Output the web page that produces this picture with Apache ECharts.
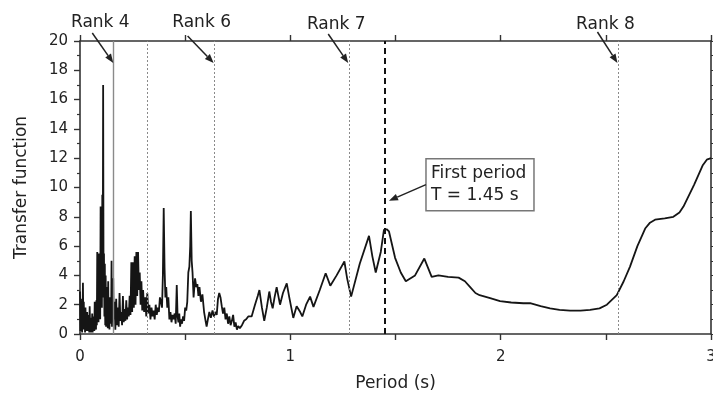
<!DOCTYPE html>
<html>
<head>
<meta charset="utf-8">
<script src="https://cdn.jsdelivr.net/npm/echarts@6/dist/echarts.min.js"></script>
<style>html,body{margin:0;padding:0;background:#fff;}#c{width:713px;height:394px;}</style>
</head>
<body>
<div id="c"></div>
<script>
// Period (s)
const period = [
0.000,0.002,0.004,0.006,0.008,0.010,0.012,0.014,0.016,0.018,0.020,0.022,0.024,0.026,0.028,0.030,0.032,0.034,0.036,0.038,
0.040,0.042,0.044,0.046,0.048,0.050,0.052,0.054,0.056,0.058,0.060,0.062,0.064,0.066,0.068,0.070,0.072,0.074,0.076,0.078,
0.080,0.082,0.084,0.086,0.088,0.090,0.092,0.094,0.096,0.098,0.100,0.102,0.104,0.106,0.108,0.110,0.112,0.114,0.116,0.118,
0.120,0.122,0.124,0.126,0.128,0.130,0.132,0.134,0.136,0.138,0.140,0.142,0.144,0.146,0.148,0.150,0.152,0.154,0.156,0.158,
0.160,0.164,0.168,0.172,0.176,0.180,0.184,0.188,0.192,0.196,0.200,0.204,0.208,0.212,0.216,0.220,0.224,0.228,0.232,
0.236,0.240,0.244,0.248,0.252,0.256,0.260,0.264,0.268,0.272,0.276,0.280,0.284,0.288,0.292,0.296,0.300,0.305,0.310,0.315,
0.320,0.325,0.330,0.335,0.340,0.345,0.350,0.355,0.360,0.365,0.370,0.375,0.380,0.385,0.390,0.394,0.398,0.402,0.406,0.410,
0.415,0.420,0.425,0.430,0.435,0.440,0.445,0.450,0.455,0.460,0.464,0.468,0.472,0.476,0.480,0.485,0.490,0.495,0.500,0.505,
0.510,0.515,0.520,0.524,0.527,0.531,0.535,0.540,0.547,0.553,0.558,0.563,0.568,0.575,0.582,0.590,0.597,0.602,0.608,0.615,
0.622,0.630,0.637,0.643,0.650,0.656,0.662,0.668,0.674,0.680,0.686,0.692,0.698,0.704,0.710,0.716,0.722,0.728,0.734,0.740,
0.746,0.752,0.760,0.770,0.780,0.790,0.800,0.816,0.832,0.845,0.853,0.865,0.876,0.888,0.900,0.908,0.916,0.925,0.935,0.943,
0.951,0.965,0.983,0.995,1.014,1.022,1.030,1.038,1.047,1.057,1.075,1.094,1.110,1.140,1.168,1.190,1.220,1.257,1.270,1.289,
1.330,1.374,1.390,1.406,1.430,1.445,1.458,1.469,1.498,1.525,1.549,1.593,1.637,1.672,1.704,1.750,1.800,1.830,1.855,1.880,
1.900,1.950,1.997,2.050,2.108,2.140,2.190,2.235,2.280,2.330,2.380,2.425,2.470,2.505,2.552,2.585,2.615,2.650,2.687,2.710,
2.734,2.780,2.821,2.850,2.869,2.920,2.960,2.980,3.000
];
// Transfer function
const transfer = [
2.9,0.2,2.4,0.6,1.9,0.1,1.4,3.5,0.3,2.2,0.5,1.6,0.1,1.8,0.4,1.2,0.2,1.5,0.3,1.0,
0.2,1.3,0.1,1.9,0.3,1.1,0.1,0.8,0.2,1.4,0.1,0.9,0.3,1.2,0.2,2.2,0.4,1.5,0.3,2.3,
0.6,5.6,1.0,3.2,0.8,5.5,1.5,4.2,1.0,8.7,2.2,6.0,1.8,9.5,2.5,17.0,3.0,5.5,1.2,4.8,
0.6,4.0,0.5,3.2,1.0,2.6,0.4,3.6,0.8,2.2,0.3,2.5,0.7,1.8,0.9,5.0,0.5,2.4,0.8,3.8,
1.0,2.2,0.3,2.4,0.6,1.8,0.5,2.8,0.9,1.5,0.6,2.6,0.8,1.7,0.9,2.3,1.0,1.8,1.2,
2.6,1.3,4.9,1.5,4.9,1.8,5.3,2.0,5.6,2.6,5.6,3.0,4.2,2.0,3.6,1.6,3.0,1.5,2.5,1.2,
2.8,1.4,2.0,1.0,1.8,1.2,1.6,1.0,2.0,1.3,1.8,1.5,2.5,2.2,1.8,4.0,8.6,4.5,2.5,3.2,
1.8,2.5,1.0,1.5,0.8,1.3,1.0,1.4,0.7,3.35,1.2,0.8,1.4,0.5,1.0,0.7,1.2,0.9,1.8,1.6,
2.2,4.2,4.6,6.0,8.4,5.0,4.2,2.5,3.8,3.2,3.4,2.6,3.2,2.2,2.7,1.5,0.9,0.5,1.0,1.5,
1.1,1.6,1.2,1.5,1.3,2.4,2.8,2.5,1.9,1.4,1.8,1.0,1.4,0.7,1.2,0.6,0.9,1.3,0.5,0.8,
0.3,0.55,0.4,0.6,0.9,1.0,1.2,1.2,2.0,2.6,3.0,1.8,0.9,1.8,2.9,2.2,1.75,2.5,3.2,2.6,
2.0,2.8,3.45,2.5,1.1,1.5,1.9,2.0,1.5,1.2,2.0,2.55,1.85,3.0,4.15,3.3,4.0,4.95,3.8,2.55,
4.8,6.7,5.3,4.2,5.6,7.1,7.15,7.0,5.2,4.2,3.6,4.0,5.15,3.9,4.0,3.9,3.85,3.6,3.2,2.8,
2.65,2.45,2.25,2.15,2.1,2.1,1.9,1.75,1.65,1.6,1.6,1.65,1.75,2.0,2.65,3.6,4.6,6.0,7.2,7.6,
7.8,7.9,8.0,8.3,8.7,10.2,11.5,11.9,12.0
];
const xTicks = [0, 1, 2, 3];
const yTicks = [0, 2, 4, 6, 8, 10, 12, 14, 16, 18, 20];
const rankLabels = ["Rank 4", "Rank 6", "Rank 7", "Rank 8"];
const rankPeriods = [0.163, 0.64, 1.28, 2.56];
const extraLinePeriod = [0.32];
const firstPeriod = 1.45;
const firstPeriodText = ["First period", "T = 1.45 s"];

const FONT = "'DejaVu Sans', sans-serif";
const TXT = "#222";
const chart = echarts.init(document.getElementById('c'), null, {renderer: 'canvas'});

const dotted = {color: '#8a8a8a', width: 1, type: [2, 2]};
const markData = [
  {xAxis: rankPeriods[0], lineStyle: {color: '#8a8a8a', width: 1.4, type: 'solid'}},
  {xAxis: extraLinePeriod[0], lineStyle: dotted},
  {xAxis: rankPeriods[1], lineStyle: dotted},
  {xAxis: rankPeriods[2], lineStyle: dotted},
  {xAxis: rankPeriods[3], lineStyle: dotted},
  {xAxis: firstPeriod, lineStyle: {color: '#111', width: 2, type: [6, 4]}}
];

const axCommon = {
  type: 'value', min: 0, max: 3, interval: 0.5,
  axisLine: {show: true, onZero: false, lineStyle: {color: '#333', width: 1.6}},
  axisTick: {show: true, inside: false, length: 6, lineStyle: {color: '#333', width: 1.4}},
  splitLine: {show: false}
};

chart.setOption({
  animation: false,
  backgroundColor: '#fff',
  grid: {left: 80, right: 2, top: 41, bottom: 60, containLabel: false, outerBoundsMode: 'none'},
  xAxis: [
    Object.assign({}, axCommon, {
      position: 'bottom',
      name: 'Period (s)', nameLocation: 'middle', nameGap: 41,
      nameTextStyle: {fontFamily: FONT, fontSize: 17, color: TXT},
      axisLabel: {fontFamily: FONT, fontSize: 15, color: TXT, margin: 16,
        formatter: v => xTicks.indexOf(v) >= 0 ? String(v) : ''}
    }),
    Object.assign({}, axCommon, {position: 'top', axisLabel: {show: false}})
  ],
  yAxis: [
    {
      type: 'value', min: 0, max: 20, interval: 2, position: 'left',
      name: 'Transfer function', nameLocation: 'middle', nameGap: 50,
      nameTextStyle: {fontFamily: FONT, fontSize: 17, color: TXT},
      axisLine: {show: true, onZero: false, lineStyle: {color: '#333', width: 1.6}},
      axisTick: {show: true, length: 6, lineStyle: {color: '#333', width: 1.4}},
      minorTick: {show: true, splitNumber: 2, length: 3, lineStyle: {color: '#333', width: 1.2}},
      axisLabel: {fontFamily: FONT, fontSize: 15, color: TXT, margin: 12,
        formatter: v => yTicks.indexOf(v) >= 0 ? String(v) : ''},
      splitLine: {show: false}
    },
    {
      type: 'value', min: 0, max: 20, interval: 2, position: 'right',
      axisLine: {show: true, onZero: false, lineStyle: {color: '#333', width: 1.6}},
      axisTick: {show: true, length: 5, lineStyle: {color: '#333', width: 1.2}},
      minorTick: {show: true, splitNumber: 2, length: 3, lineStyle: {color: '#333', width: 1}},
      axisLabel: {show: false},
      splitLine: {show: false}
    }
  ],
  series: [{
    type: 'line',
    data: period.map((p, i) => [p, transfer[i]]),
    showSymbol: false,
    symbol: 'none',
    lineStyle: {color: '#151515', width: 1.8},
    z: 3,
    markLine: {
      silent: true, symbol: 'none', label: {show: false},
      data: markData
    }
  }]
});

// annotations anchored to data positions
function px(x, y) { return chart.convertToPixel({xAxisIndex: 0, yAxisIndex: 0}, [x, y]); }
function arrow(x1, y1, x2, y2) {
  const ang = Math.atan2(y2 - y1, x2 - x1);
  const L = 9, W = 3.5;
  const bx = x2 - L * Math.cos(ang), by = y2 - L * Math.sin(ang);
  const nx = -Math.sin(ang) * W, ny = Math.cos(ang) * W;
  return [
    {type: 'line', shape: {x1: x1, y1: y1, x2: bx, y2: by}, style: {stroke: '#222', lineWidth: 1.5}, z: 10},
    {type: 'polygon', shape: {points: [[x2, y2], [bx + nx, by + ny], [bx - nx, by - ny]]}, style: {fill: '#222'}, z: 10}
  ];
}
const g = [];
const tipY = 18.5;
const labelOffsets = [[-13, -40], [-12, -40], [-12, -38], [-12, -38]];
const arrowStart = [[-21, -30], [-26, -27], [-20, -29], [-20, -31]];
rankPeriods.forEach((p, i) => {
  const t = px(p, tipY);
  t[0] -= 1;
  g.push(...arrow(t[0] + arrowStart[i][0], t[1] + arrowStart[i][1], t[0], t[1]));
  g.push({type: 'text', x: t[0] + labelOffsets[i][0], y: t[1] + labelOffsets[i][1], z: 10,
    style: {text: rankLabels[i], font: '17px ' + FONT, fill: TXT, textAlign: 'center', textVerticalAlign: 'middle'}});
});
// First period box
const fp = px(firstPeriod, 9.1);
const bx0 = fp[0] + 41, by0 = fp[1] - 42;
g.push({type: 'rect', shape: {x: bx0, y: by0, width: 108, height: 52}, style: {fill: '#fff', stroke: '#777', lineWidth: 1.5}, z: 9});
g.push({type: 'text', x: bx0 + 5, y: by0 + 15, z: 10, style: {text: firstPeriodText[0], font: '17px ' + FONT, fill: TXT, textVerticalAlign: 'middle'}});
g.push({type: 'text', x: bx0 + 5, y: by0 + 37, z: 10, style: {text: firstPeriodText[1], font: '17px ' + FONT, fill: TXT, textVerticalAlign: 'middle'}});
g.push(...arrow(bx0, by0 + 26, fp[0] + 4, fp[1]));
chart.setOption({graphic: g});
</script>
</body>
</html>
